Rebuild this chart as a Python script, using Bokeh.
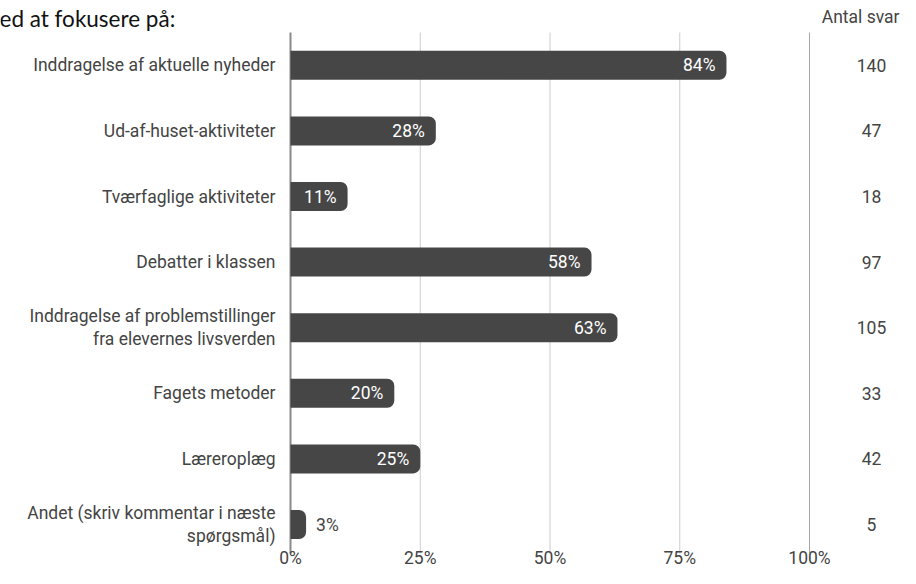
from bokeh.plotting import figure
from bokeh.models import Range1d, ColumnDataSource
from bokeh.core.properties import value
from bokeh.embed import file_html
from bokeh.resources import INLINE

# ---------------- data ----------------
title_text = "ed at fokusere på:"
count_header = "Antal svar"
categories = [
    "Inddragelse af aktuelle nyheder",
    "Ud-af-huset-aktiviteter",
    "Tværfaglige aktiviteter",
    "Debatter i klassen",
    "Inddragelse af problemstillinger\nfra elevernes livsverden",
    "Fagets metoder",
    "Læreroplæg",
    "Andet (skriv kommentar i næste\nspørgsmål)",
]
percentages = [84, 28, 11, 58, 63, 20, 25, 3]
counts = [140, 47, 18, 97, 105, 33, 42, 5]
tick_values = [0, 25, 50, 75, 100]
tick_labels = ["0%", "25%", "50%", "75%", "100%"]

# ---------------- layout constants ----------------
W, H = 900, 568
PX_PER_UNIT = 5.19          # pixels per percent
ZERO_PX = 290               # canvas x of 0%
PITCH = 65.6                # pixels per row
FRAME_TOP = 32              # canvas y of top of row area
x_start = -ZERO_PX / PX_PER_UNIT
x_end = (W - ZERO_PX) / PX_PER_UNIT
y_top = -0.5 - FRAME_TOP / PITCH
y_bottom = y_top + H / PITCH


def ypx(canvas_y):
    return y_top + canvas_y / PITCH


def xpx(canvas_x):
    return (canvas_x - ZERO_PX) / PX_PER_UNIT


FONT = value("Roboto")
FS = "17.5px"
TXT = "#444444"
BAR = "#464646"

p = figure(width=W, height=H, output_backend="svg", toolbar_location=None,
           x_range=Range1d(x_start, x_end), y_range=Range1d(y_bottom, y_top),
           min_border=0, min_border_left=0, min_border_right=0,
           min_border_top=0, min_border_bottom=0)
p.axis.visible = False
p.grid.visible = False
p.outline_line_color = None
p.background_fill_color = "white"
p.border_fill_color = "white"

rows = list(range(len(categories)))

# grid lines
grid_colors = ["#8a8a8a", "#cccccc", "#cccccc", "#cccccc", "#a6a6a6"]
grid_widths = [2, 1, 1, 1, 1]
p.segment(x0=tick_values, x1=tick_values, y0=[-0.5] * len(tick_values),
          y1=[ypx(553)] * len(tick_values),
          line_color=grid_colors, line_width=grid_widths)

src = ColumnDataSource(dict(
    y=rows, cat=categories, pct=percentages, cnt=[str(c) for c in counts],
))

p.hbar(y="y", left=0, right="pct", height=29 / PITCH, source=src,
       fill_color=BAR, line_color=None, border_radius=(0, 7, 7, 0))

# percentage labels: inside (white) or outside (dark)
inside = [v >= 10 for v in percentages]
src_in = ColumnDataSource(dict(
    y=[r for r, i in zip(rows, inside) if i],
    x=[v for v, i in zip(percentages, inside) if i],
    t=[f"{v}%" for v, i in zip(percentages, inside) if i]))
src_out = ColumnDataSource(dict(
    y=[r for r, i in zip(rows, inside) if not i],
    x=[v for v, i in zip(percentages, inside) if not i],
    t=[f"{v}%" for v, i in zip(percentages, inside) if not i]))
p.text(x="x", y="y", text="t", source=src_in, x_offset=-11, text_align="right",
       text_baseline="middle", text_color="white", text_font=FONT,
       text_font_size=FS)
p.text(x="x", y="y", text="t", source=src_out, x_offset=10, text_align="left",
       text_baseline="middle", text_color=TXT, text_font=FONT,
       text_font_size=FS)

# category labels
p.text(x=0, y="y", text="cat", source=src, x_offset=-15, text_align="right",
       text_baseline="middle", text_color=TXT, text_font=FONT,
       text_font_size=FS, text_line_height=1.15)

# counts column
p.text(x=xpx(871), y="y", text="cnt", source=src, text_align="center",
       text_baseline="middle", text_color=TXT, text_font=FONT,
       text_font_size=FS)
p.text(x=[xpx(899)], y=[ypx(16)], text=[count_header], text_align="right",
       text_baseline="middle", text_color=TXT, text_font=FONT,
       text_font_size=FS)

# x tick labels
p.text(x=tick_values, y=[ypx(567)] * len(tick_values), text=tick_labels,
       text_align="center", text_baseline="bottom", text_color=TXT,
       text_font=FONT, text_font_size=FS)

# title (cropped at left in the original)
p.text(x=[xpx(-1)], y=[ypx(18)], text=[title_text], text_align="left",
       text_baseline="alphabetic", text_color="#111111",
       text_font=value("Lato"), text_font_size="22.5px")

open("out.html", "w").write(file_html(p, INLINE))
